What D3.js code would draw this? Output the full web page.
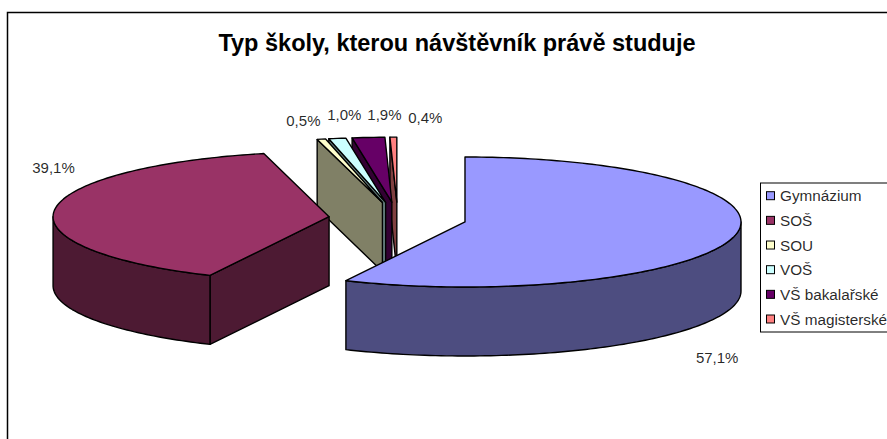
<!DOCTYPE html>
<html>
<head>
<meta charset="utf-8">
<script src="https://cdn.jsdelivr.net/npm/d3@7"></script>
<style>
body { margin: 0; background: #fff; }
text { font-family: "Liberation Sans", Arial, sans-serif; fill: #000; }
</style>
</head>
<body>
<div id="chart-area"></div>
<script>
var categories = ["Gymnázium", "SOŠ", "SOU", "VOŠ", "VŠ bakalařské", "VŠ magisterské"];
var values = [57.1, 39.1, 0.5, 1.0, 1.9, 0.4];
var topColors = ["#9999ff", "#993366", "#ffffcc", "#ccffff", "#660066", "#ff8080"];
var sideColors = ["#4d4d80", "#4d1a33", "#808066", "#668080", "#330033", "#804040"];
var labelNudge = [[-17, 122], [-1, -42], [-18, -18], [7, -23], [16, -22], [32, -19]];

var width = 887, height = 439;
var center = {x: 397.7, y: 218.4};
var rx = 276, ry = 65, depth = 69, explode = 0.25;

var svg = d3.select("#chart-area").append("svg")
	.attr("width", width)
	.attr("height", height)
	.style("display", "block");

// frame
svg.append("rect")
	.attr("x", 7.5).attr("y", 12.5)
	.attr("width", 890).attr("height", 440)
	.attr("fill", "#fff")
	.attr("stroke", "#000")
	.attr("stroke-width", 1.5);

svg.append("text")
	.attr("x", 457)
	.attr("y", 51)
	.attr("text-anchor", "middle")
	.attr("font-size", "23.5px")
	.attr("font-weight", "bold")
	.text("Typ školy, kterou návštěvník právě studuje");

var slices = d3.pie().sort(null).value((d)=> d)(values);

// angle is clockwise from 12 o'clock, squashed to an ellipse
var px = d3.scaleLinear().domain([-1, 1]).range([-rx, rx]);
var py = d3.scaleLinear().domain([-1, 1]).range([ry, -ry]);

slices.forEach((s, i)=>{
	var mid = (s.startAngle + s.endAngle) / 2;
	s.index = i;
	s.mid = mid;
	s.ax = center.x + explode * px(Math.sin(mid));
	s.ay = center.y + explode * py(Math.cos(mid));
});

function pointAt(s, a, dy) {
	return [s.ax + px(Math.sin(a)), s.ay + py(Math.cos(a)) + dy];
}

function arcPoints(s, a0, a1, dy) {
	var n = Math.max(2, Math.ceil((a1 - a0) / 0.02));
	return d3.range(n + 1).map((k)=> pointAt(s, a0 + (a1 - a0) * k / n, dy));
}

var line = d3.line();

function drawPoly(g, pts, fill) {
	g.append("path")
		.attr("d", line(pts) + "Z")
		.attr("fill", fill)
		.attr("stroke", "#000")
		.attr("stroke-width", 1.4)
		.attr("stroke-linejoin", "round");
}

var pie = svg.append("g");

// back to front: small slices right to left, then the two big ones
var order = [5, 4, 3, 2, 1, 0];
order.forEach((i)=>{
	var s = slices[i];
	var g = pie.append("g");
	var apex = [s.ax, s.ay];
	var start = pointAt(s, s.startAngle, 0);

	if (s.startAngle > Math.PI) {
		drawPoly(g, [apex, start, [start[0], start[1] + depth], [apex[0], apex[1] + depth]], sideColors[i]);
	}
	var a0 = Math.max(s.startAngle, Math.PI / 2);
	var a1 = Math.min(s.endAngle, 3 * Math.PI / 2);
	if (a1 > a0) {
		drawPoly(g, arcPoints(s, a0, a1, 0).concat(arcPoints(s, a0, a1, depth).reverse()), sideColors[i]);
	}
	drawPoly(g, [apex].concat(arcPoints(s, s.startAngle, s.endAngle, 0)), topColors[i]);
});

// data labels
svg.selectAll(".value-label").data(slices).enter().append("text")
	.attr("class", "value-label")
	.attr("x", (d)=> pointAt(d, d.mid, 0)[0] + labelNudge[d.index][0])
	.attr("y", (d)=> pointAt(d, d.mid, 0)[1] + labelNudge[d.index][1] + 5)
	.attr("text-anchor", "middle")
	.attr("font-size", "15px")
	.attr("fill-opacity", 0.85)
	.text((d, i)=> values[i].toFixed(1).replace(".", ",") + "%");

// legend
var legend = svg.append("g");
legend.append("rect")
	.attr("x", 760.5).attr("y", 183)
	.attr("width", 140).attr("height", 149)
	.attr("fill", "#fff")
	.attr("stroke", "#000");

var legendY = d3.scalePoint().domain(categories).range([195.7, 319]);

categories.forEach((c, i)=>{
	legend.append("rect")
		.attr("x", 766.5).attr("y", legendY(c) - 4)
		.attr("width", 8).attr("height", 8)
		.attr("fill", topColors[i])
		.attr("stroke", "#000");
	legend.append("text")
		.attr("x", 780)
		.attr("y", legendY(c) + 5.5)
		.attr("font-size", "15.3px")
		.attr("fill-opacity", 0.85)
		.text(c);
});
</script>
</body>
</html>
